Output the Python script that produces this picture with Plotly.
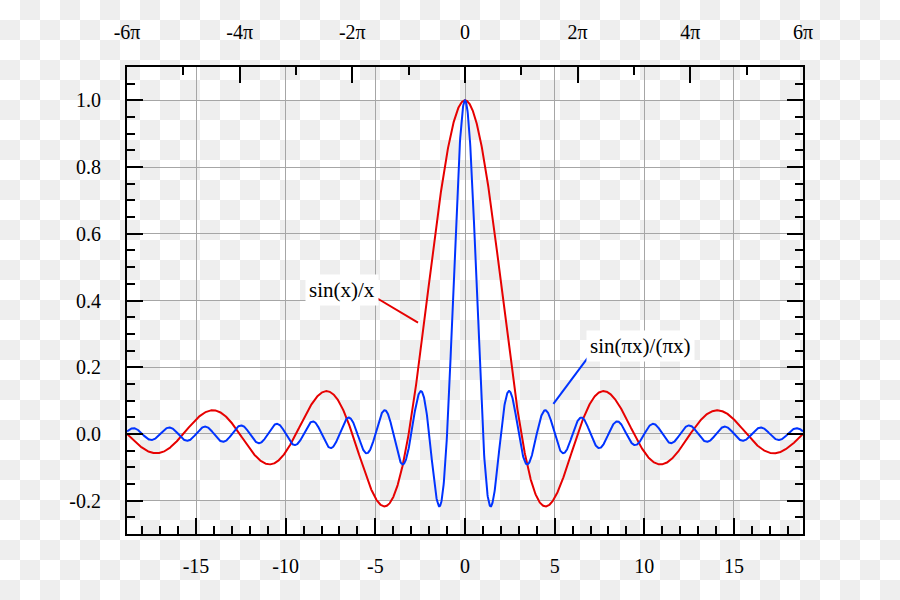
import base64
import numpy as np
import plotly.graph_objects as go

PI = np.pi

# ---- data ----
x_min, x_max = -6 * PI, 6 * PI
x_values = np.linspace(x_min, x_max, 2401)
# the two plotted functions, as labelled on the chart
sinc_x = np.where(x_values == 0, 1.0, np.sin(x_values) / np.where(x_values == 0, 1, x_values))
sinc_pix = np.sinc(x_values)  # sin(pi x)/(pi x)

bottom_tick_vals = [-15, -10, -5, 0, 5, 10, 15]
bottom_tick_text = ["-15", "-10", "-5", "0", "5", "10", "15"]
top_tick_vals = [k * PI for k in (-6, -4, -2, 0, 2, 4, 6)]
top_tick_text = ["-6π", "-4π", "-2π", "0", "2π", "4π", "6π"]
top_minor_vals = [k * PI for k in (-5, -3, -1, 1, 3, 5)]
y_tick_vals = [-0.2, 0.0, 0.2, 0.4, 0.6, 0.8, 1.0]
y_tick_text = ["-0.2", "0.0", "0.2", "0.4", "0.6", "0.8", "1.0"]

label_texts = ["sin(x)/x", "sin(πx)/(πx)"]
label_pos = [(-6.88, 0.432), (9.80, 0.264)]
leader_lines = [((-4.88, 0.406), (-2.62, 0.334)), ((6.83, 0.2275), (4.93, 0.0898))]
colors = ["rgb(230,0,0)", "rgb(0,51,255)"]

FONT = "Liberation Serif, Times New Roman, serif"

# checkerboard (transparency) background
svg = ("<svg xmlns='http://www.w3.org/2000/svg' width='900' height='600'>"
       "<defs><pattern id='p' width='40' height='40' patternUnits='userSpaceOnUse'>"
       "<rect width='40' height='40' fill='#ffffff'/>"
       "<rect x='20' y='0' width='20' height='20' fill='#eeeeee'/>"
       "<rect x='0' y='20' width='20' height='20' fill='#eeeeee'/>"
       "</pattern></defs><rect width='900' height='600' fill='url(#p)'/></svg>")
svg_uri = "data:image/svg+xml;base64," + base64.b64encode(svg.encode()).decode()

ML, MR, MT, MB = 127, 97, 67, 66
PW, PH = 900 - ML - MR, 600 - MT - MB

fig = go.Figure()
fig.add_trace(go.Scatter(x=x_values, y=sinc_x, mode="lines",
                         line=dict(color=colors[0], width=2), hoverinfo="skip"))
fig.add_trace(go.Scatter(x=x_values, y=sinc_pix, mode="lines",
                         line=dict(color=colors[1], width=2), hoverinfo="skip"))
# carrier for the top (π) axis
fig.add_trace(go.Scatter(x=[x_min, x_max], y=[None, None], xaxis="x2", yaxis="y",
                         mode="lines", hoverinfo="skip", showlegend=False))

for (p0, p1), c in zip(leader_lines, colors):
    fig.add_shape(type="line", x0=p0[0], y0=p0[1], x1=p1[0], y1=p1[1],
                  xref="x", yref="y", line=dict(color=c, width=2))

for t, (lx, ly) in zip(label_texts, label_pos):
    fig.add_annotation(x=lx, y=ly, xref="x", yref="y", text=t, showarrow=False,
                       font=dict(family=FONT, size=21, color="black"),
                       bgcolor="white", borderpad=3)

fig.add_layout_image(dict(source=svg_uri, xref="paper", yref="paper",
                          x=-ML / PW, y=1 + MT / PH, sizex=900 / PW, sizey=600 / PH,
                          xanchor="left", yanchor="top", sizing="stretch", layer="below"))

axis_common = dict(showline=True, linecolor="black", linewidth=2,
                   ticks="inside", ticklen=16, tickwidth=2, tickcolor="black",
                   tickfont=dict(family=FONT, size=20, color="black"),
                   zeroline=False)

fig.update_layout(
    width=900, height=600,
    margin=dict(l=ML, r=MR, t=MT, b=MB),
    paper_bgcolor="white", plot_bgcolor="rgba(0,0,0,0)",
    showlegend=False,
    xaxis=dict(range=[x_min, x_max], tickmode="array", tickvals=bottom_tick_vals,
               ticktext=bottom_tick_text, showgrid=True, gridcolor="#a6a6a6", gridwidth=1,
               minor=dict(ticks="inside", ticklen=8, tickwidth=2, tickcolor="black",
                          dtick=1, tick0=0, showgrid=False),
               ticklabelstandoff=13, **axis_common),
    xaxis2=dict(range=[x_min, x_max], overlaying="x", side="top", anchor="y",
                tickmode="array", tickvals=top_tick_vals, ticktext=top_tick_text,
                showgrid=False,
                minor=dict(ticks="inside", ticklen=8, tickwidth=2, tickcolor="black",
                           tickmode="array", tickvals=top_minor_vals, showgrid=False),
                ticklabelstandoff=18, **axis_common),
    yaxis=dict(range=[-0.3, 1.1], tickmode="array", tickvals=y_tick_vals,
               ticktext=y_tick_text, showgrid=True, gridcolor="#a6a6a6", gridwidth=1,
               mirror="ticks",
               minor=dict(ticks="inside", ticklen=8, tickwidth=2, tickcolor="black",
                          dtick=0.05, tick0=0, showgrid=False),
               ticklabelstandoff=20, **axis_common),
)

fig.write_html("out.html", config={"displayModeBar": False},
               post_script="document.body.style.margin='0';document.body.style.overflow='hidden';")
